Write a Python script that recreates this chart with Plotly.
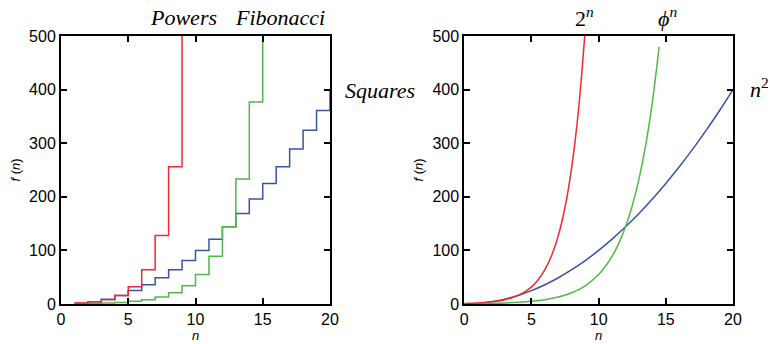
import plotly.graph_objects as go
from plotly.subplots import make_subplots

# ---- data: left panel (step plots) ----
step_n_pow = [1, 2, 3, 4, 5, 6, 7, 8, 9]
step_pow = [2, 4, 8, 16, 32, 64, 128, 256, 512]
step_n_fib = [1, 2, 3, 4, 5, 6, 7, 8, 9, 10, 11, 12, 13, 14, 15]
step_fib = [1, 1, 2, 3, 5, 8, 13, 21, 34, 55, 89, 144, 233, 377, 610]
step_n_sq = [1, 2, 3, 4, 5, 6, 7, 8, 9, 10, 11, 12, 13, 14, 15, 16, 17, 18, 19, 20]
step_sq = [1, 4, 9, 16, 25, 36, 49, 64, 81, 100, 121, 144, 169, 196, 225, 256, 289, 324, 361, 400]

# ---- data: right panel (smooth curves, values read at sample points) ----
cur_n_pow = [0, 0.5, 1, 1.5, 2, 2.5, 3, 3.5, 4, 4.5, 5, 5.5, 6, 6.5, 7, 7.5, 8, 8.5, 9]
cur_pow = [1, 1.41, 2, 2.83, 4, 5.66, 8, 11.3, 16, 22.6, 32, 45.3, 64, 90.5, 128, 181, 256, 362, 512]
cur_n_phi = [0, 1, 2, 3, 4, 5, 6, 7, 8, 9, 10, 10.5, 11, 11.5, 12, 12.5, 13, 13.5, 14, 14.5]
cur_phi = [0.45, 0.72, 1.17, 1.89, 3.07, 4.96, 8.02, 13.0, 21.0, 34.0, 55.0, 69.9, 89.0, 113.2, 144.0, 183.2, 233.0, 296.4, 377.0, 479.6]
cur_n_sq = [0, 1, 2, 3, 4, 5, 6, 7, 8, 9, 10, 11, 12, 13, 14, 15, 16, 17, 18, 19, 20]
cur_sq = [0, 1, 4, 9, 16, 25, 36, 49, 64, 81, 100, 121, 144, 169, 196, 225, 256, 289, 324, 361, 400]

x_ticks = [0, 5, 10, 15, 20]
y_ticks = [0, 100, 200, 300, 400, 500]

RED = "#ec2a31"
GREEN = "#52b848"
BLUE = "#3a52a3"

W, H = 770, 344
ML, MR, MT, MB = 61, 37, 36, 40

fig = make_subplots(rows=1, cols=2, horizontal_spacing=0.2)

lw = 1.5
fig.add_trace(go.Scatter(x=step_n_sq, y=step_sq, mode="lines", line=dict(color=BLUE, width=lw, shape="hv")), 1, 1)
fig.add_trace(go.Scatter(x=step_n_fib, y=step_fib, mode="lines", line=dict(color=GREEN, width=lw, shape="hv")), 1, 1)
fig.add_trace(go.Scatter(x=step_n_pow, y=step_pow, mode="lines", line=dict(color=RED, width=lw, shape="hv")), 1, 1)

fig.add_trace(go.Scatter(x=cur_n_sq, y=cur_sq, mode="lines", line=dict(color=BLUE, width=lw, shape="spline")), 1, 2)
fig.add_trace(go.Scatter(x=cur_n_phi, y=cur_phi, mode="lines", line=dict(color=GREEN, width=lw, shape="spline")), 1, 2)
fig.add_trace(go.Scatter(x=cur_n_pow, y=cur_pow, mode="lines", line=dict(color=RED, width=lw, shape="spline")), 1, 2)

axis_common = dict(
    showline=True, linecolor="black", linewidth=2, mirror="ticks",
    ticks="inside", ticklen=6, tickwidth=1.5, tickcolor="black",
    showgrid=False, zeroline=False, automargin=False,
    tickfont=dict(family="Liberation Sans, Arial", size=16, color="black"),
)

for c in (1, 2):
    fig.update_xaxes(range=[0, 20], tickvals=x_ticks, **axis_common,
                     title=dict(text="<i>n</i>", standoff=0,
                                font=dict(family="Liberation Sans, Arial", size=13, color="black")),
                     row=1, col=c)
    fig.update_yaxes(range=[0, 500], tickvals=y_ticks, **axis_common,
                     title=dict(text="<i>f</i> (<i>n</i>)", standoff=6,
                                font=dict(family="Liberation Sans, Arial", size=13, color="black")),
                     row=1, col=c)

fig.update_layout(
    width=W, height=H,
    margin=dict(l=ML, r=MR, t=MT, b=MB, autoexpand=False),
    paper_bgcolor="white", plot_bgcolor="white",
    showlegend=False,
)
pw = W - ML - MR
fig.update_xaxes(domain=[0, (330 - ML) / pw], row=1, col=1)
fig.update_xaxes(domain=[(464.3 - ML) / pw, 1.0], row=1, col=2)

lab_font = dict(family="Liberation Serif, Times New Roman", size=22, color="black")
labels = [
    ("<i>Powers</i>", 183, 18),
    ("<i>Fibonacci</i>", 280, 18),
    ("<i>Squares</i>", 380, 90),
    ("2<sup><i>n</i></sup>", 584, 17),
    ("<i>\u03d5</i><sup><i>n</i></sup>", 667, 17),
    ("<i>n</i><sup>2</sup>", 759, 88),
]
ph = H - MT - MB
for text, px, py in labels:
    fig.add_annotation(text=text, x=(px - ML) / pw, y=(H - MB - py) / ph, xref="paper", yref="paper",
                       xanchor="center", yanchor="middle", showarrow=False, font=lab_font)

fig.write_html("out.html", config={"displayModeBar": False},
               post_script="document.body.style.margin='0';document.body.style.padding='0';")
